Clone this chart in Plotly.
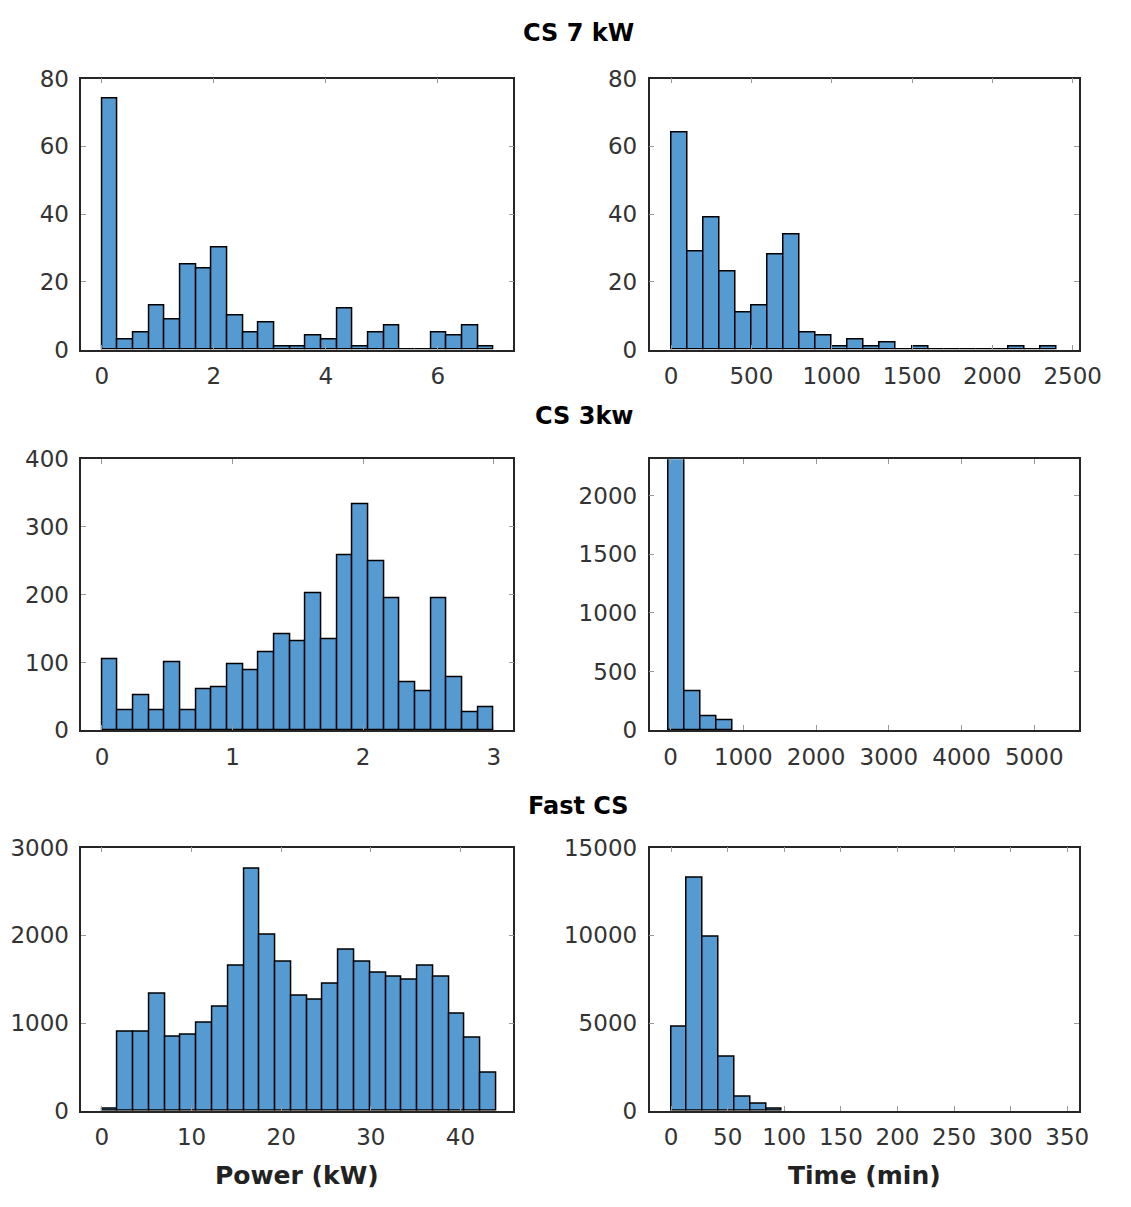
import plotly.graph_objects as go

# ---------------- data ----------------
# CS 7 kW
p7_start, p7_width = 0.0, 0.28
p7_counts = [74, 3, 5, 13, 9, 25, 24, 30, 10, 5, 8, 1, 1, 4, 3, 12, 1, 5, 7, 0, 0, 5, 4, 7, 1]
t7_start, t7_width = 0.0, 100.0
t7_counts = [64, 29, 39, 23, 11, 13, 28, 34, 5, 4, 1, 3, 1, 2, 0, 1, 0, 0, 0, 0, 0, 1, 0, 1]
# CS 3 kW
p3_start, p3_width = 0.0, 0.12
p3_counts = [105, 30, 51, 30, 101, 30, 61, 64, 98, 88, 115, 142, 132, 202, 135,
             259, 334, 249, 195, 71, 57, 195, 78, 27, 34]
t3_start, t3_width = -30.0, 222.0
t3_counts = [2600, 335, 117, 84]
# Fast CS
pf_start, pf_width = 0.0, 1.76
pf_counts = [20, 900, 900, 1341, 850, 870, 1004, 1185, 1656, 2763, 2011, 1700, 1315,
             1263, 1448, 1833, 1700, 1574, 1526, 1496, 1656, 1526, 1111, 830, 433]
tf_start, tf_width = 0.0, 14.0
tf_counts = [4780, 13300, 9950, 3110, 790, 400, 140]

row_titles = ["CS 7 kW", "CS 3kw", "Fast CS"]
x_titles = ["Power (kW)", "Time (min)"]

# ---------------- layout geometry ----------------
W, H = 1131, 1207
col_px = [(83, 524), (663, 1101)]
row_px = [(67, 344), (456, 733), (853, 1122)]

panels = [
    # (row, col, start, width, counts, xrange, xtickvals, yrange, ytickvals)
    (0, 0, p7_start, p7_width, p7_counts, [-0.367, 7.35], [0, 2, 4, 6], [0, 80], [0, 20, 40, 60, 80]),
    (0, 1, t7_start, t7_width, t7_counts, [-134, 2537], [0, 500, 1000, 1500, 2000, 2500], [0, 80], [0, 20, 40, 60, 80]),
    (1, 0, p3_start, p3_width, p3_counts, [-0.158, 3.15], [0, 1, 2, 3], [0, 400], [0, 100, 200, 300, 400]),
    (1, 1, t3_start, t3_width, t3_counts, [-290, 5610], [0, 1000, 2000, 3000, 4000, 5000], [0, 2310], [0, 500, 1000, 1500, 2000]),
    (2, 0, pf_start, pf_width, pf_counts, [-2.3, 45.9], [0, 10, 20, 30, 40], [0, 3000], [0, 1000, 2000, 3000]),
    (2, 1, tf_start, tf_width, tf_counts, [-19, 360], [0, 50, 100, 150, 200, 250, 300, 350], [0, 15000], [0, 5000, 10000, 15000]),
]

BAR = "rgb(86,154,210)"
AX = "#262626"
FONT = "DejaVu Sans"

fig = go.Figure()
layout = dict(
    width=W, height=H, margin=dict(l=0, r=0, t=0, b=0),
    paper_bgcolor="white", plot_bgcolor="white", showlegend=False,
    bargap=0,
)

for i, (r, c, start, width, counts, xr, xt, yr, yt) in enumerate(panels):
    n = i + 1
    xa = "x" if n == 1 else f"x{n}"
    ya = "y" if n == 1 else f"y{n}"
    centers = [start + width * (k + 0.5) for k in range(len(counts))]
    fig.add_trace(go.Bar(
        x=centers, y=counts, width=[width] * len(counts),
        marker=dict(color=BAR, line=dict(color="black", width=1.5)),
        xaxis=xa, yaxis=ya, cliponaxis=True,
    ))
    x0, x1 = col_px[c]
    y0, y1 = row_px[r]
    common = dict(
        showline=True, linecolor=AX, linewidth=1.5, mirror="ticks",
        ticks="inside", ticklen=5, tickcolor="#9a9a9a", tickwidth=1,
        showgrid=False, zeroline=False,
        tickfont=dict(family=FONT, size=23, color="#333333"),
    )
    layout["xaxis" if n == 1 else f"xaxis{n}"] = dict(
        domain=[x0 / W, x1 / W], anchor=ya, range=xr,
        tickvals=xt, ticktext=[str(v) for v in xt], ticklabelstandoff=5,
        **common,
    )
    layout["yaxis" if n == 1 else f"yaxis{n}"] = dict(
        domain=[1 - y1 / H, 1 - y0 / H], anchor=xa, range=yr,
        tickvals=yt, ticktext=[str(v) for v in yt], ticklabelstandoff=6,
        **common,
    )

annotations = []
title_pos = [(590, 20), (597, 412), (591, 810)]
for t, (px, py) in zip(row_titles, title_pos):
    annotations.append(dict(
        text=f"<b>{t}</b>", x=px / W, y=1 - py / H, xref="paper", yref="paper",
        showarrow=False, xanchor="center", yanchor="middle",
        font=dict(family=FONT, size=24, color="black"),
    ))
for t, px in zip(x_titles, [303, 882]):
    annotations.append(dict(
        text=f"<b>{t}</b>", x=px / W, y=1 - 1188 / H, xref="paper", yref="paper",
        showarrow=False, xanchor="center", yanchor="middle",
        font=dict(family=FONT, size=25, color="#222222"),
    ))
layout["annotations"] = annotations

fig.update_layout(**layout)
fig.write_html("out.html")
